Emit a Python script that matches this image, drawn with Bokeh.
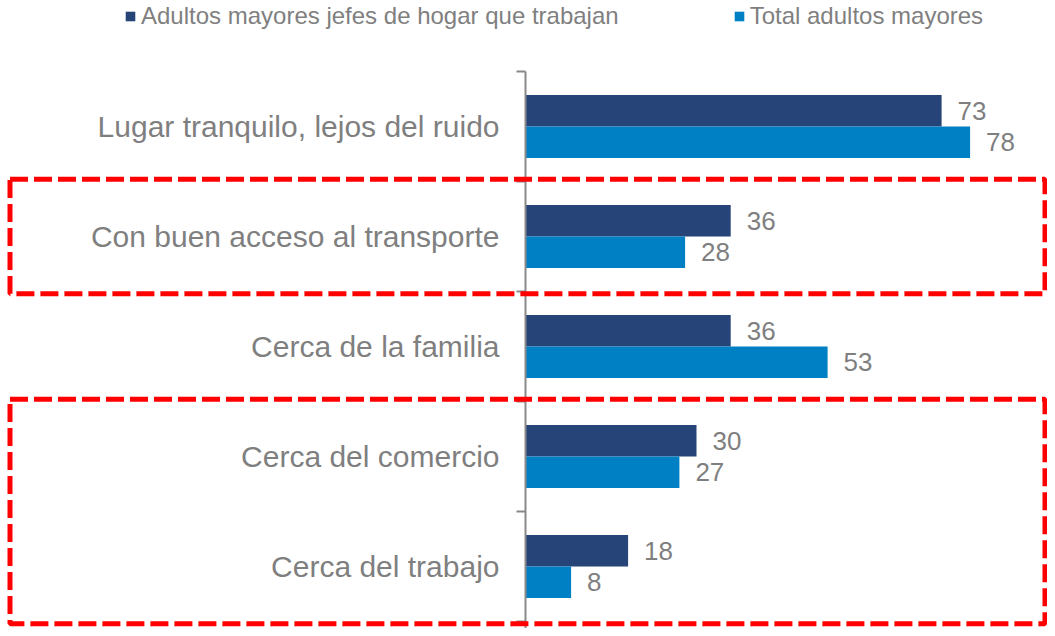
from bokeh.plotting import figure
from bokeh.models import Range1d, ColumnDataSource, Legend, LegendItem
from bokeh.core.properties import value
from bokeh.embed import file_html
from bokeh.resources import INLINE

# ---- data ----
categories = [
    "Lugar tranquilo, lejos del ruido",
    "Con buen acceso al transporte",
    "Cerca de la familia",
    "Cerca del comercio",
    "Cerca del trabajo",
]
jefes_trabajan = [73, 36, 36, 30, 18]
total_mayores = [78, 28, 53, 27, 8]
series_names = ["Adultos mayores jefes de hogar que trabajan", "Total adultos mayores"]
highlight_groups = [["Con buen acceso al transporte"], ["Cerca del comercio", "Cerca del trabajo"]]

# ---- layout constants ----
W, H = 1047, 628
X0 = 525          # pixel of value 0
PXU = 5.7         # pixels per unit
ROW0 = 126        # pixel of first category centre
ROW = 110         # pixels per category
FONT = "Liberation Sans"
GRAY = "#7F7F7F"
AXIS_GRAY = "#898989"
DARK = "#264478"
LIGHT = "#0080C4"

x_range = Range1d(-X0 / PXU, (W - X0) / PXU)
y_range = Range1d((H - ROW0) / ROW, -ROW0 / ROW)   # flipped: first category on top

p = figure(width=W, height=H, x_range=x_range, y_range=y_range,
           x_axis_type=None, y_axis_type=None, toolbar_location=None,
           output_backend="svg", min_border=0, outline_line_color=None)
p.grid.visible = False
p.background_fill_color = "white"
p.border_fill_color = "white"

pos = list(range(len(categories)))
bh = 31.5 / ROW
off = bh / 2
src = ColumnDataSource(dict(
    cat=categories,
    y1=[i - off for i in pos], y2=[i + off for i in pos],
    v1=jefes_trabajan, v2=total_mayores,
    t1=[str(v) for v in jefes_trabajan], t2=[str(v) for v in total_mayores],
    ly=pos,
))

r1 = p.hbar(y="y1", left=0, right="v1", height=bh, source=src,
            fill_color=DARK, line_color=None)
r2 = p.hbar(y="y2", left=0, right="v2", height=bh, source=src,
            fill_color=LIGHT, line_color=None)

lab_kw = dict(text_font=value(FONT), text_font_size="26px", text_color=GRAY,
              text_baseline="middle", text_align="left", x_offset=16)
p.text(x="v1", y="y1", text="t1", source=src, **lab_kw)
p.text(x="v2", y="y2", text="t2", source=src, **lab_kw)

# category labels
p.text(x=0, y="ly", text="cat", source=src, x_offset=-26,
       text_font=value(FONT), text_font_size="30px", text_color=GRAY,
       text_baseline="middle", text_align="right")

# vertical axis line with ticks at category boundaries
n = len(categories)
p.segment(x0=[0], y0=[-0.5], x1=[0], y1=[y_range.start],
          line_color=AXIS_GRAY, line_width=2)
bounds = [i - 0.5 for i in range(n + 1)]
p.segment(x0=[-9 / PXU] * len(bounds), y0=bounds, x1=[0] * len(bounds), y1=bounds,
          line_color=AXIS_GRAY, line_width=2)

# red dashed highlight boxes
for grp in highlight_groups:
    idx = [categories.index(c) for c in grp]
    p.quad(left=[(9.5 - X0) / PXU], right=[(1044.5 - X0) / PXU],
           top=[min(idx) - 0.52], bottom=[max(idx) + 0.52],
           fill_color=None, line_color="#FF0000", line_width=5, line_dash="18 6")

legend = Legend(items=[LegendItem(label=series_names[0], renderers=[r1]),
                       LegendItem(label=series_names[1], renderers=[r2])],
                orientation="horizontal", location=(124, 598),
                padding=0, margin=0, spacing=114, label_standoff=5,
                glyph_width=12, glyph_height=12, label_height=12,
                border_line_color=None, background_fill_alpha=0,
                label_text_font=FONT, label_text_font_size="24px",
                label_text_color=GRAY)
p.add_layout(legend)

open("out.html", "w").write(file_html(p, INLINE))
